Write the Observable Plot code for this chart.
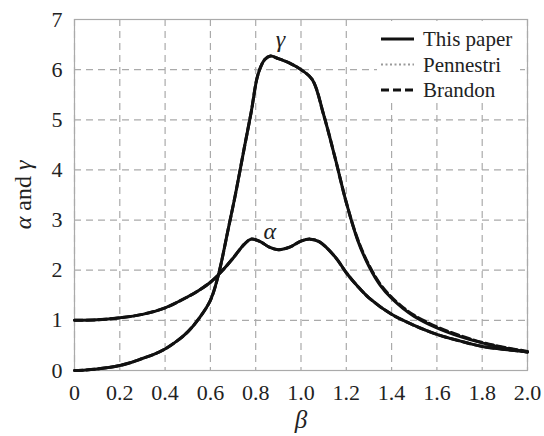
<!DOCTYPE html>
<html>
<head>
<meta charset="utf-8">
<script src="https://cdn.jsdelivr.net/npm/d3@7"></script>
<script src="https://cdn.jsdelivr.net/npm/@observablehq/plot@0.6"></script>
<style>
  html, body { margin: 0; padding: 0; background: #fff; }
  #chart { position: relative; width: 544px; height: 436px; }
</style>
</head>
<body>
<div id="chart"></div>
<script>
// ---- data ----
const betaAlpha = [0, 0.1, 0.2, 0.3, 0.4, 0.5, 0.55, 0.6, 0.65, 0.7, 0.75, 0.78, 0.82, 0.86, 0.9, 0.95, 1.0, 1.04, 1.08, 1.15, 1.2, 1.25, 1.3, 1.4, 1.5, 1.6, 1.7, 1.8, 1.9, 2.0];
const alphaThisPaper = [1.0, 1.01, 1.05, 1.12, 1.25, 1.47, 1.6, 1.76, 1.98, 2.24, 2.52, 2.62, 2.57, 2.46, 2.41, 2.46, 2.58, 2.62, 2.57, 2.27, 1.95, 1.68, 1.45, 1.12, 0.9, 0.72, 0.59, 0.48, 0.42, 0.37];
const alphaPennestri = [1.0, 1.01, 1.05, 1.12, 1.25, 1.47, 1.6, 1.76, 1.98, 2.24, 2.52, 2.62, 2.57, 2.46, 2.41, 2.46, 2.58, 2.62, 2.57, 2.27, 1.95, 1.68, 1.45, 1.12, 0.9, 0.72, 0.59, 0.48, 0.42, 0.37];
const alphaBrandon = [1.0, 1.01, 1.05, 1.12, 1.25, 1.47, 1.6, 1.76, 1.98, 2.24, 2.52, 2.62, 2.57, 2.46, 2.41, 2.46, 2.58, 2.62, 2.57, 2.27, 1.95, 1.68, 1.45, 1.12, 0.9, 0.72, 0.59, 0.48, 0.42, 0.37];

const betaGamma = [0, 0.05, 0.1, 0.15, 0.2, 0.25, 0.3, 0.35, 0.4, 0.45, 0.5, 0.55, 0.6, 0.635, 0.68, 0.71, 0.75, 0.78, 0.81, 0.84, 0.865, 0.9, 0.95, 1.0, 1.05, 1.1, 1.15, 1.2, 1.25, 1.3, 1.35, 1.4, 1.45, 1.5, 1.6, 1.7, 1.8, 1.9, 2.0];
const gammaThisPaper = [0, 0.01, 0.03, 0.06, 0.1, 0.16, 0.24, 0.32, 0.43, 0.58, 0.77, 1.04, 1.4, 1.9, 2.85, 3.5, 4.45, 5.15, 5.9, 6.2, 6.27, 6.22, 6.13, 6.0, 5.8, 5.1, 4.25, 3.35, 2.6, 2.08, 1.7, 1.44, 1.24, 1.08, 0.85, 0.68, 0.55, 0.45, 0.37];
const gammaPennestri = [0, 0.01, 0.03, 0.06, 0.1, 0.16, 0.24, 0.32, 0.43, 0.58, 0.77, 1.04, 1.4, 1.9, 2.85, 3.5, 4.45, 5.15, 5.9, 6.2, 6.27, 6.22, 6.13, 6.0, 5.8, 5.1, 4.25, 3.35, 2.6, 2.08, 1.7, 1.44, 1.24, 1.08, 0.85, 0.68, 0.55, 0.45, 0.37];
const gammaBrandon = [0, 0.01, 0.03, 0.06, 0.1, 0.16, 0.24, 0.32, 0.43, 0.58, 0.77, 1.04, 1.4, 1.9, 2.85, 3.5, 4.45, 5.15, 5.9, 6.2, 6.27, 6.22, 6.13, 6.0, 5.8, 5.1, 4.25, 3.35, 2.62, 2.1, 1.72, 1.46, 1.26, 1.1, 0.87, 0.7, 0.56, 0.46, 0.38];

const xTicks = [0, 0.2, 0.4, 0.6, 0.8, 1.0, 1.2, 1.4, 1.6, 1.8, 2.0];
const xTickLabels = ["0", "0.2", "0.4", "0.6", "0.8", "1.0", "1.2", "1.4", "1.6", "1.8", "2.0"];
const yTicks = [0, 1, 2, 3, 4, 5, 6, 7];
const yTickLabels = ["0", "1", "2", "3", "4", "5", "6", "7"];

const seriesNames = ["This paper", "Pennestri", "Brandon"];
const annotations = [
  {x: 0.93, y: 6.6, text: "γ"},
  {x: 0.89, y: 2.77, text: "α"}
];

// ---- build tables ----
const toRows = (bs, vs) => bs.map((b, i) => ({beta: b, v: vs[i]}));
const A = {
  "This paper": toRows(betaAlpha, alphaThisPaper),
  "Pennestri": toRows(betaAlpha, alphaPennestri),
  "Brandon": toRows(betaAlpha, alphaBrandon)
};
const G = {
  "This paper": toRows(betaGamma, gammaThisPaper),
  "Pennestri": toRows(betaGamma, gammaPennestri),
  "Brandon": toRows(betaGamma, gammaBrandon)
};

const styles = {
  "This paper": {stroke: "#111", strokeWidth: 3},
  "Brandon": {stroke: "#111", strokeWidth: 3, strokeDasharray: "8,4"},
  "Pennestri": {stroke: "#9a9a9a", strokeWidth: 2, strokeDasharray: "2,2.5"}
};
const order = ["Pennestri", "This paper", "Brandon"];

const lineMarks = [];
for (const name of order) {
  for (const tbl of [A, G]) {
    lineMarks.push(Plot.line(tbl[name], {x: "beta", y: "v", curve: "catmull-rom", ...styles[name]}));
  }
}

const font = "'Liberation Serif', 'Times New Roman', serif";

const plot = Plot.plot({
  width: 544,
  height: 436,
  marginLeft: 74,
  marginRight: 17,
  marginTop: 19,
  marginBottom: 66,
  style: {fontFamily: font, fontSize: "22px", color: "#222", background: "#fff"},
  x: {domain: [0, 2]},
  y: {domain: [0, 7]},
  marks: [
    Plot.gridX(xTicks, {stroke: "#aaa", strokeOpacity: 1, strokeDasharray: "7,5", strokeWidth: 1.2}),
    Plot.gridY(yTicks, {stroke: "#aaa", strokeOpacity: 1, strokeDasharray: "7,5", strokeWidth: 1.2}),
    Plot.frame({stroke: "#aaa", strokeWidth: 1.2}),
    Plot.axisX({ticks: xTicks, tickSize: 0, tickPadding: 14, tickFormat: (d, i) => xTickLabels[i], label: null, fill: "#222"}),
    Plot.axisY({ticks: yTicks, tickSize: 0, tickPadding: 12, tickFormat: (d, i) => yTickLabels[i], label: null, fill: "#222"}),
    ...lineMarks,
    Plot.text(annotations, {x: "x", y: "y", text: "text", fontStyle: "italic", fontSize: 24, fill: "#222", textAnchor: "end"})
  ]
});

document.getElementById("chart").appendChild(plot);

// ---- axis titles and legend drawn into the same svg ----
const svg = d3.select(plot);

svg.append("text")
  .attr("x", 301).attr("y", 428)
  .attr("text-anchor", "middle")
  .style("font-family", font).attr("font-size", 25).attr("font-style", "italic").attr("fill", "#222")
  .text("β");

const yl = svg.append("text")
  .attr("transform", "translate(31,195) rotate(-90)")
  .attr("text-anchor", "middle")
  .style("font-family", font).attr("font-size", 24).attr("fill", "#222");
yl.append("tspan").attr("font-style", "italic").text("α");
yl.append("tspan").text(" and ");
yl.append("tspan").attr("font-style", "italic").text("γ");

const lg = svg.append("g");
lg.append("rect").attr("x", 377).attr("y", 21).attr("width", 143).attr("height", 82).attr("fill", "#fff");
seriesNames.forEach((name, i) => {
  const yy = 39 + i * 25.5;
  const st = styles[name];
  lg.append("line")
    .attr("x1", 381).attr("x2", 414).attr("y1", yy).attr("y2", yy)
    .attr("stroke", st.stroke).attr("stroke-width", st.strokeWidth)
    .attr("stroke-dasharray", st.strokeDasharray || null);
  lg.append("text")
    .attr("x", 423).attr("y", yy + 7)
    .attr("text-anchor", "start")
    .style("font-family", font).attr("font-size", 21).attr("fill", "#222")
    .text(name);
});
</script>
</body>
</html>
